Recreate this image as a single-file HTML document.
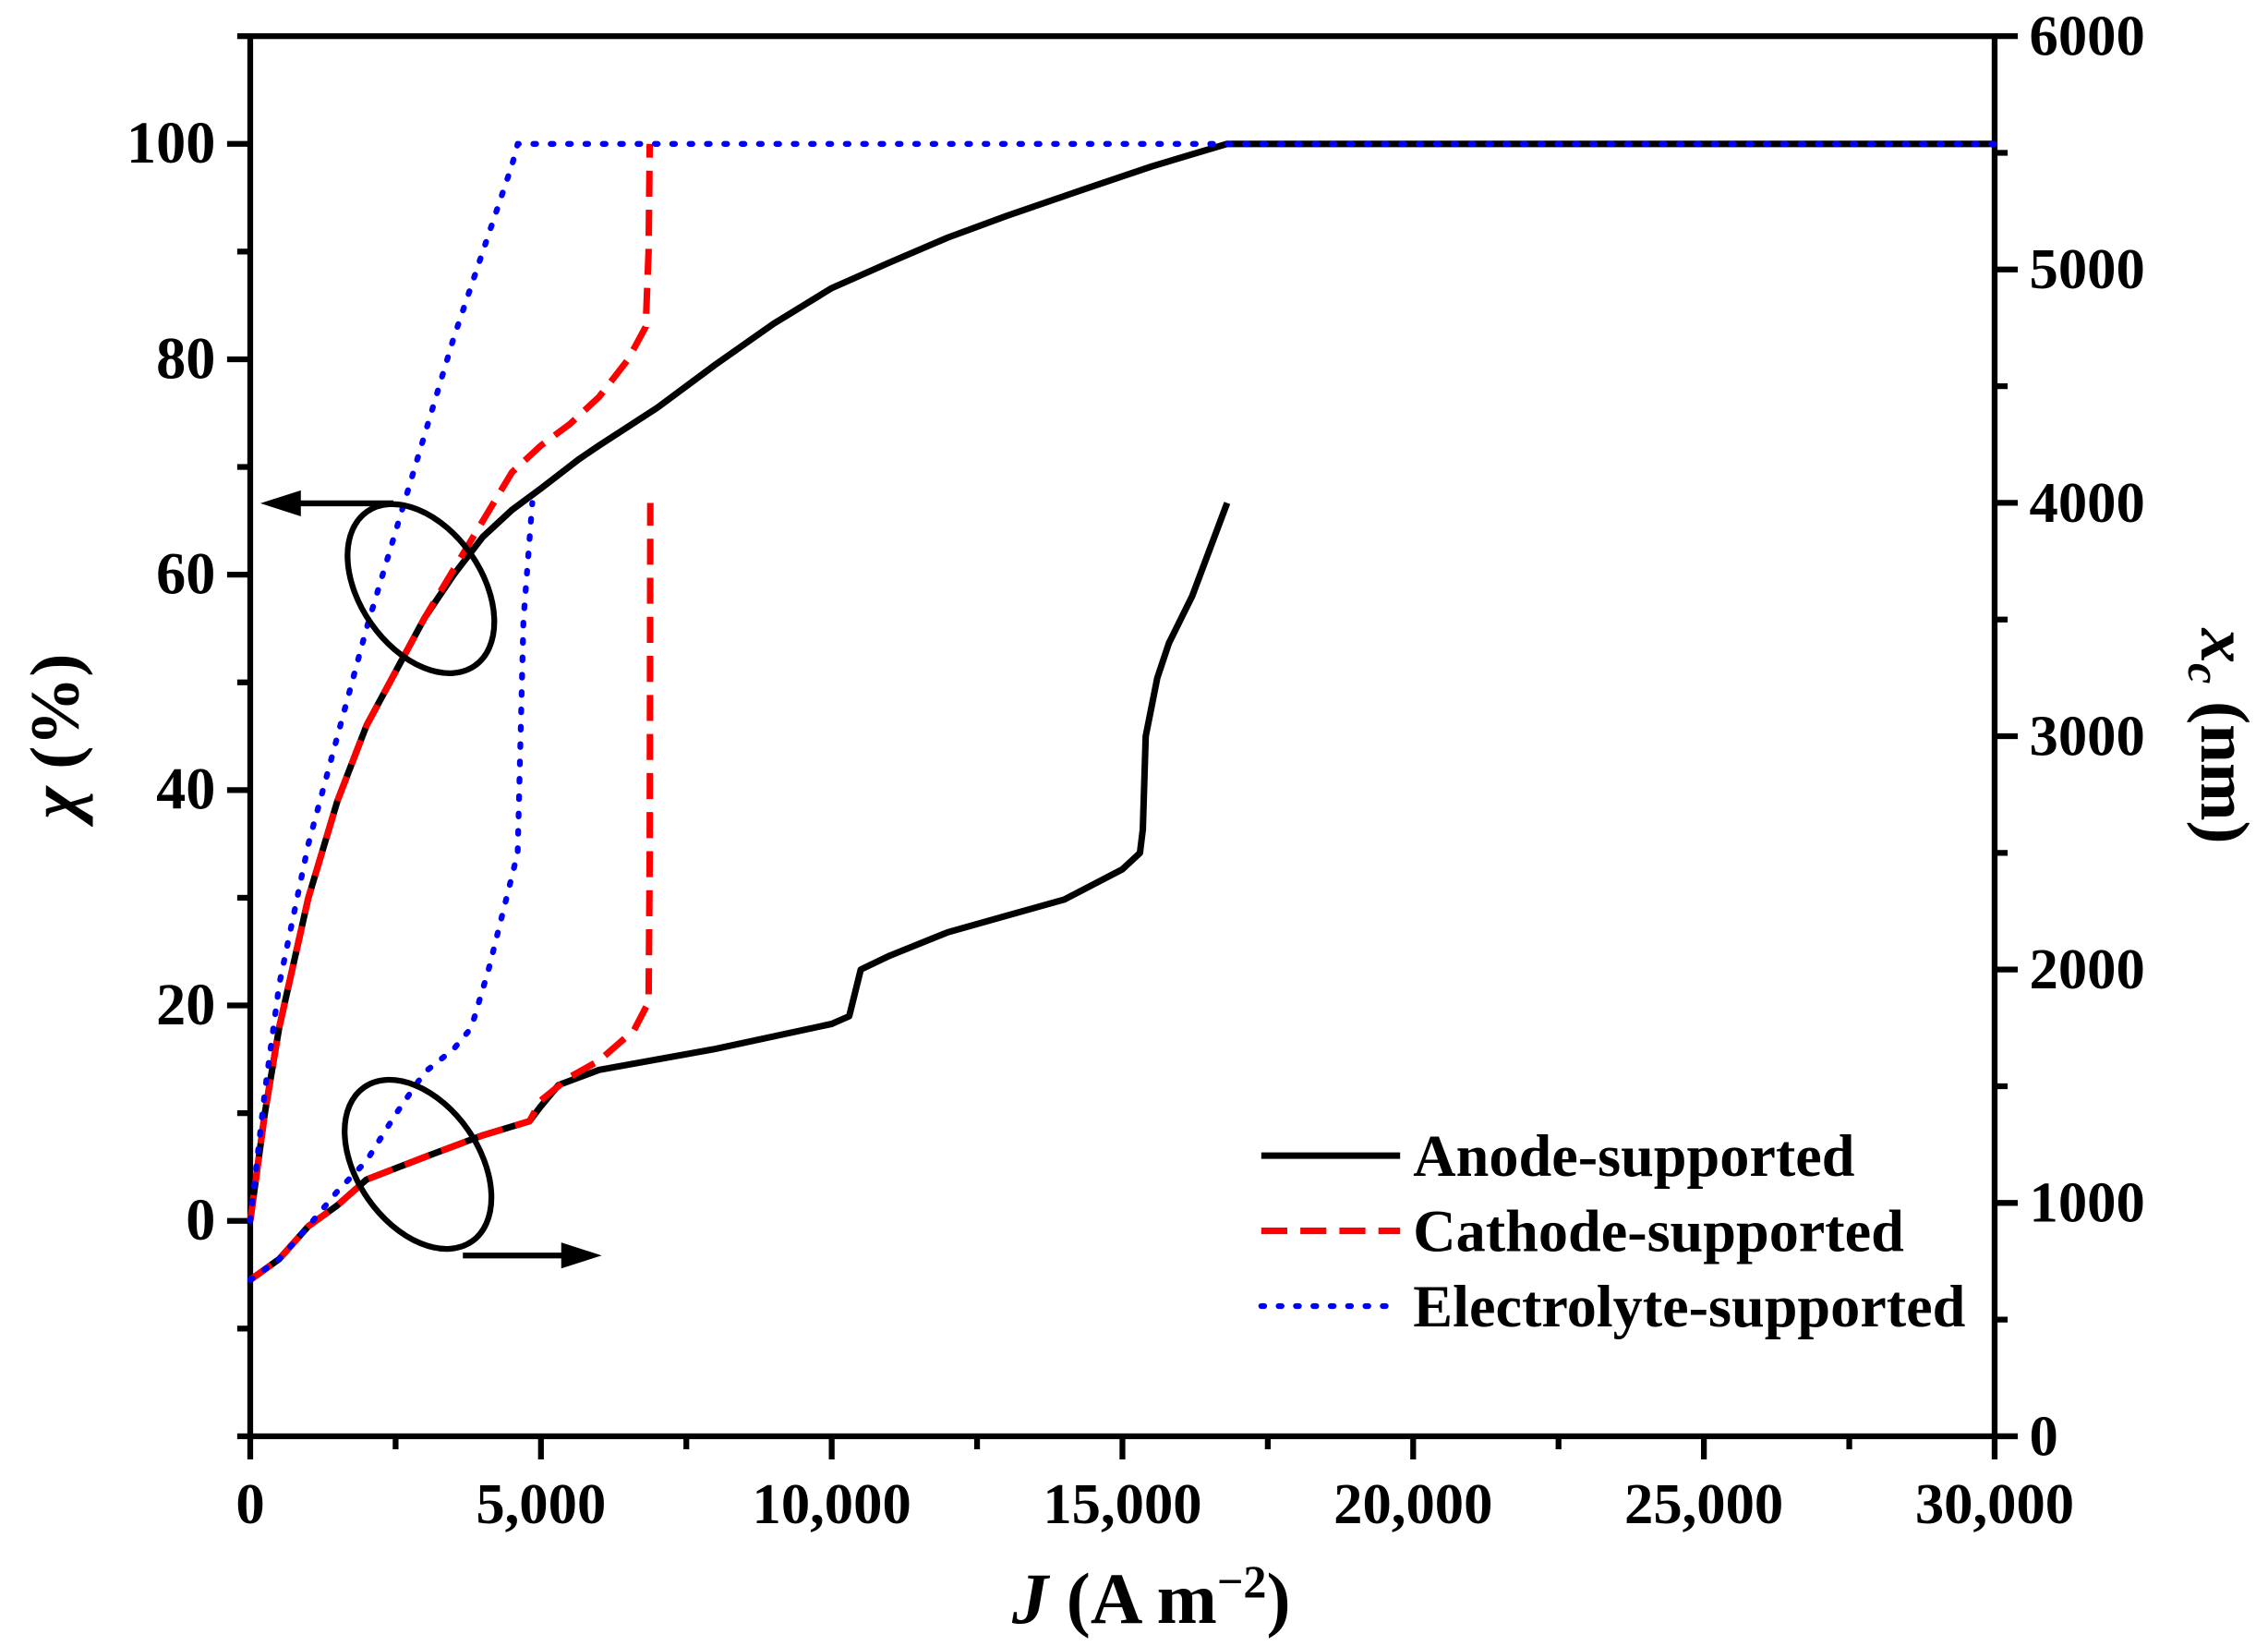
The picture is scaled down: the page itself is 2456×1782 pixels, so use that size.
<!DOCTYPE html>
<html><head><meta charset="utf-8"><style>
html,body{margin:0;padding:0;background:#fff;}
svg{display:block;}
text{font-family:"Liberation Serif","Times New Roman",serif;font-weight:bold;fill:#000;}
</style></head><body>
<svg id="chart" width="2456" height="1782" viewBox="0 0 1568 1138" preserveAspectRatio="none" xmlns="http://www.w3.org/2000/svg">
<g id="plot"></g>
</svg>
<script>
const xTicks=[0,5000,10000,15000,20000,25000,30000];
const xTickLabels=["0","5,000","10,000","15,000","20,000","25,000","30,000"];
const yLeftTicks=[0,20,40,60,80,100];
const yRightTicks=[0,1000,2000,3000,4000,5000,6000];
// conversion chi (%)
const anodeChiJ=[0,250,500,1000,1500,2000,2500,3000,3500,4000,4500,5000,5650,6000,7000,8000,9000,10000,11000,12000,13000,14350,15500,16800,30000];
const anodeChi=[0,10,18,30,39,46,51,56,60,63.5,66,68,70.7,72,75.5,79.5,83.3,86.6,89,91.3,93.3,95.8,97.9,100,100];
const cathodeChiJ=[0,250,500,1000,1500,2000,2500,3000,3500,4000,4500,5000,5500,6000,6500,6800,6850,6870];
const cathodeChi=[0,10,18,30,39,46,51,56,60.5,65,69.5,72,74,76.5,80,83,90,100];
const elecChiJ=[0,250,500,1000,1500,2000,2500,3000,3500,4000,4500,4600,30000];
const elecChi=[0,12,22,35,45,55,64,73,82,90,98,100,100];
// x_c (nm)
const anodeXcJ=[0,500,1000,1500,2000,3000,4000,4800,5000,5300,6000,8000,10000,10300,10400,10500,11000,12000,13000,14000,15000,15300,15350,15400,15600,15800,16200,16800];
const anodeXc=[670,760,900,990,1100,1196,1290,1350,1415,1505,1570,1660,1767,1800,1900,2000,2060,2160,2230,2300,2430,2500,2600,3000,3250,3400,3600,4000];
const cathodeXcJ=[0,500,1000,1500,2000,3000,4000,4800,5000,5500,6000,6600,6850,6870,6880];
const cathodeXc=[670,760,900,990,1100,1196,1290,1350,1440,1540,1610,1740,1860,2500,4000];
const elecXcJ=[0,500,1000,1500,2000,2500,3000,3500,3800,4100,4400,4600,4650,4700,4850];
const elecXc=[670,760,900,1050,1180,1380,1560,1660,1750,2000,2300,2500,3000,3500,4000];

const L=173,R=1379,T=25,B=993;
const sx=j=>L+(j/30000)*(R-L);
const syL=v=>B-(v+20)/130*(B-T);
const syR=v=>B-v/6000*(B-T);
const NS="http://www.w3.org/2000/svg";
const g=document.getElementById('plot');
function mk(tag,attrs,parent){const e=document.createElementNS(NS,tag);for(const k in attrs)e.setAttribute(k,attrs[k]);(parent||g).appendChild(e);return e;}

const frame=mk('rect',{x:L,y:T,width:R-L,height:B-T,fill:'none',stroke:'#000','stroke-width':4});



xTicks.forEach((t,i)=>{
 const l=mk('line',{x1:sx(t),x2:sx(t),y1:B,y2:B+16,stroke:'#000','stroke-width':4});
 
 
 if(i<xTicks.length-1){const m=mk('line',{x1:sx(t+2500),x2:sx(t+2500),y1:B,y2:B+9,stroke:'#000','stroke-width':4});
 
 }
 const tx=mk('text',{x:sx(t),y:B+60,'text-anchor':'middle','font-size':40});
 tx.textContent=xTickLabels[i];
 
 
});
for(let v=-20;v<=110;v+=10){
 const major=v%20===0&&v>=0&&v<=100;
 const l=mk('line',{x1:L,x2:L-(major?16:9),y1:syL(v),y2:syL(v),stroke:'#000','stroke-width':4});
 
 
}
yLeftTicks.forEach(v=>{
 const tx=mk('text',{x:L-24,y:syL(v)+13,'text-anchor':'end','font-size':41});
 tx.textContent=String(v);
 
 
});
for(let v=0;v<=6000;v+=500){
 const major=v%1000===0;
 const l=mk('line',{x1:R,x2:R+(major?16:9),y1:syR(v),y2:syR(v),stroke:'#000','stroke-width':4});
 
 
}
yRightTicks.forEach(v=>{
 const tx=mk('text',{x:R+24,y:syR(v)+13,'text-anchor':'start','font-size':40});
 tx.textContent=String(v);
 
 
});

function series(xs,ys,sy,color,dash,name){
 const d=xs.map((x,i)=>(i?'L':'M')+sx(x).toFixed(1)+','+sy(ys[i]).toFixed(1)).join(' ');
 const p=mk('path',{d:d,fill:'none',stroke:color,'stroke-width':dash==='dot'?4:4.5,'stroke-linejoin':'round','stroke-linecap':dash==='dot'?'round':'butt'});
 if(dash==='dash')p.setAttribute('stroke-dasharray','18 9');
 if(dash==='dot')p.setAttribute('stroke-dasharray','2 10');
 
 
}
series(anodeChiJ,anodeChi,syL,'#000','solid','anode-chi-line');
series(anodeXcJ,anodeXc,syR,'#000','solid','anode-xc-line');
series(cathodeChiJ,cathodeChi,syL,'#ff0000','dash','cathode-chi-line');
series(cathodeXcJ,cathodeXc,syR,'#ff0000','dash','cathode-xc-line');
series(elecChiJ,elecChi,syL,'#0000ff','dot','electrolyte-chi-line');
series(elecXcJ,elecXc,syR,'#0000ff','dot','electrolyte-xc-line');
</script>
<svg style="position:absolute;left:0;top:0" width="2456" height="1782" viewBox="0 0 1568 1138" preserveAspectRatio="none" xmlns="http://www.w3.org/2000/svg">
 <g fill="none" stroke="#000" stroke-width="4">
  <ellipse cx="291" cy="407" rx="42" ry="65" transform="rotate(-35 291 407)"/>
  <path d="M272 348 H200"/>
 </g>
 <polygon points="180,348 208,339 208,357" fill="#000"/>
 <g fill="none" stroke="#000" stroke-width="4">
  <ellipse cx="289" cy="805" rx="42" ry="65" transform="rotate(-35 289 805)"/>
  <path d="M320 868 H395"/>
 </g>
 <polygon points="416,868 388,859 388,877" fill="#000"/>
 <g>
  <line x1="872" x2="968" y1="799" y2="799" stroke="#000" stroke-width="4.5"/>
  <text x="977" y="813" font-size="41">Anode-supported</text>
  <line x1="872" x2="968" y1="851" y2="851" stroke="#ff0000" stroke-width="4.5" stroke-dasharray="18 9"/>
  <text x="977" y="865" font-size="41">Cathode-supported</text>
  <line x1="872" x2="968" y1="903" y2="903" stroke="#0000ff" stroke-width="4" stroke-dasharray="2 10" stroke-linecap="round"/>
  <text x="977" y="917" font-size="41">Electrolyte-supported</text>
 </g>
 <text x="796" y="1122" text-anchor="middle" font-size="50"><tspan font-style="italic">J</tspan> (A m<tspan dy="-18" font-size="32">−2</tspan><tspan dy="18">)</tspan></text>
 <text transform="translate(54 509) rotate(-90)" text-anchor="middle" font-size="48"><tspan font-style="italic">χ</tspan>  (%)</text>
 <text transform="translate(1522 509) rotate(90)" text-anchor="middle" font-size="48"><tspan font-style="italic">x</tspan><tspan font-style="italic" font-size="32" dy="9">c</tspan><tspan dy="-9"> (nm)</tspan></text>
</svg>
</body></html>
